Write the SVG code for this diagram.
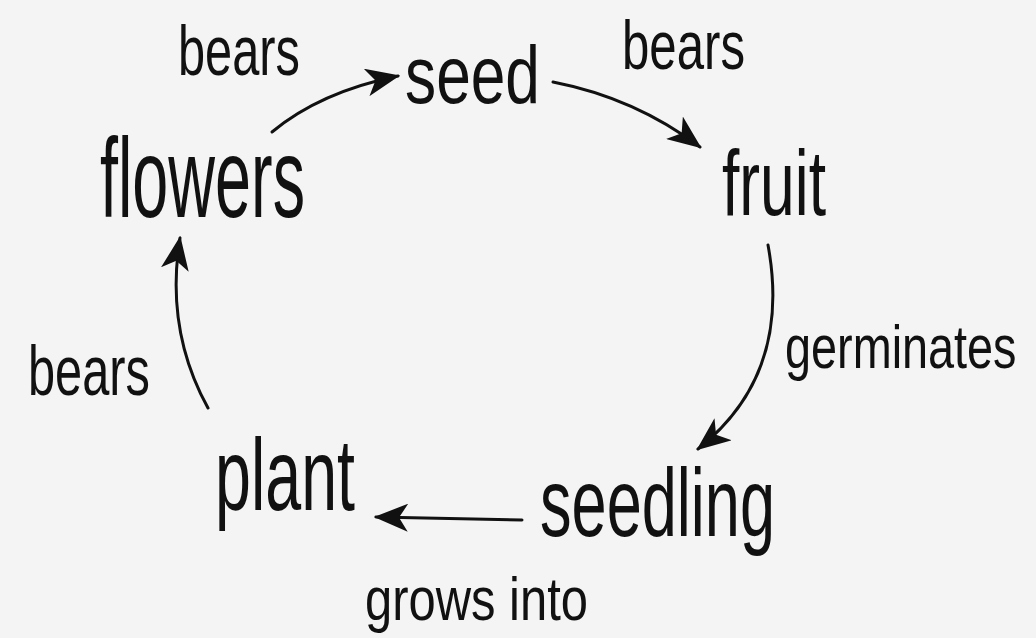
<svg xmlns="http://www.w3.org/2000/svg" width="1036" height="638" viewBox="0 0 1036 638">
<style>
.t{font-family:"Liberation Sans",Arial,sans-serif;fill:#111;}
.c{fill:none;stroke:#111;stroke-width:3;stroke-linecap:round;}
</style>
<defs>
<marker id="ah" viewBox="0 0 34 28" refX="32" refY="14" markerWidth="34" markerHeight="28" markerUnits="userSpaceOnUse" orient="auto">
<path d="M34,14 L0,0 L9,14 L0,28 Z" fill="#111"/>
</marker>
</defs>
<rect width="1036" height="638" fill="#f4f4f4"/>
<g id="connectors">
<path class="c" d="M272,132 Q320,92 398,76" marker-end="url(#ah)"/>
<path class="c" d="M553,82 Q635,98 700,147" marker-end="url(#ah)"/>
<path class="c" d="M768,245 Q792,375 698,449" marker-end="url(#ah)"/>
<path class="c" d="M522,520 L376,517" marker-end="url(#ah)"/>
<path class="c" d="M208,408 Q165,330 180,238" marker-end="url(#ah)"/>
</g>
<g id="seed"><text class="t" x="405" y="103" font-size="82" textLength="135" lengthAdjust="spacingAndGlyphs">seed</text></g>
<g id="fruit"><text class="t" x="722" y="215" font-size="92" textLength="104" lengthAdjust="spacingAndGlyphs">fruit</text></g>
<g id="seedling"><text class="t" x="540" y="536" font-size="96" textLength="235" lengthAdjust="spacingAndGlyphs">seedling</text></g>
<g id="plant"><text class="t" x="215" y="510" font-size="102" textLength="140" lengthAdjust="spacingAndGlyphs">plant</text></g>
<g id="flowers"><text class="t" x="100" y="217" font-size="114" textLength="205" lengthAdjust="spacingAndGlyphs">flowers</text></g>
<g id="labels">
<text class="t" x="178" y="75" font-size="70" textLength="122" lengthAdjust="spacingAndGlyphs">bears</text>
<text class="t" x="622" y="69" font-size="68" textLength="123" lengthAdjust="spacingAndGlyphs">bears</text>
<text class="t" transform="translate(785,368) scale(0.755,1)" x="0" y="0" font-size="62">germinates</text>
<text class="t" x="28" y="395" font-size="70" textLength="122" lengthAdjust="spacingAndGlyphs">bears</text>
<text class="t" x="365" y="620" font-size="62" textLength="223" lengthAdjust="spacingAndGlyphs">grows into</text>
</g>
</svg>
